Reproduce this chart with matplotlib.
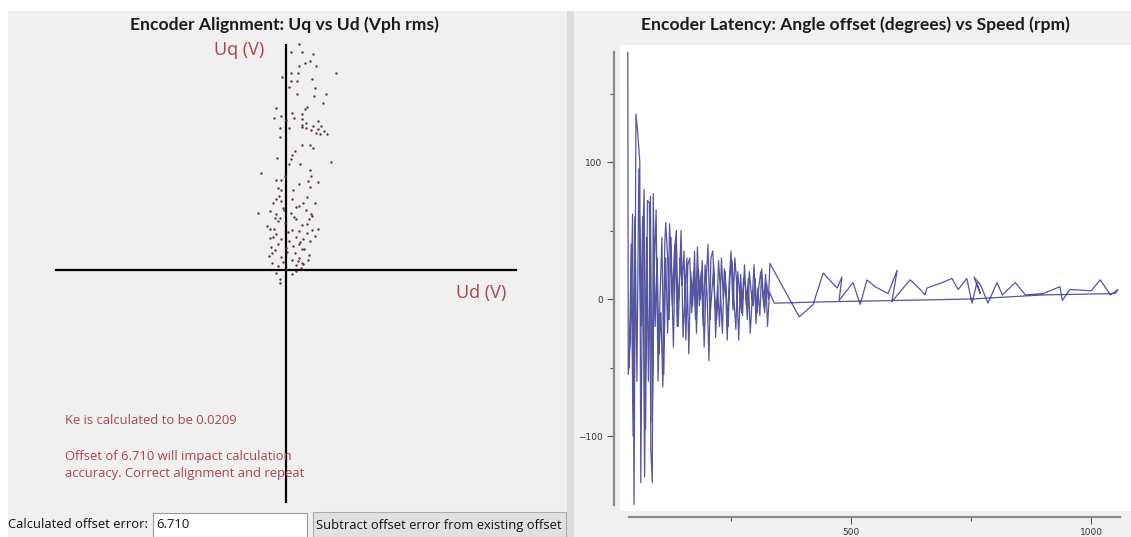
import matplotlib
matplotlib.use('agg')
import matplotlib.pyplot as plt
from matplotlib.patches import Rectangle
from matplotlib.ticker import FixedLocator

# --- left panel: Uq vs Ud scatter (V) ---
ud = [0.55, 0.22, 0.68, 1.19, 1.03, 0.81, 0.58, 1.31, 0.22, 0.52, -0.17, 2.17, 1.12, 0.21, 0.46,
      1.25, 0.11, 1.75, 0.46, 1.22, 1.60, -0.43, 0.93, 0.84, 0.24, 0.70, -0.21, -0.52, 0.36, 0.68,
      1.41, -0.02, -0.27, 0.11, 0.68, 0.87, 1.19, 1.38, 1.53, 1.66, 1.77, 1.47, -0.27, 0.68, 1.06,
      1.19, 0.40, 0.27, -0.41, 0.21, 1.94, 0.11, -1.09, 1.03, -0.05, 1.09, 0.96, 1.38, -0.43, -0.21,
      0.55, 1.03, -0.36, -0.21, 0.93, -0.43, 0.24, 0.74, -0.58, 1.25, 0.58, -0.11, -0.68, -1.22, -0.43,
      0.21, 0.87, 1.09, -0.24, 0.43, 1.00, -0.84, -0.36, -0.05, 0.68, 1.38, 1.15, -0.71, -0.52, 0.27,
      0.58, 0.90, 1.25, 0.43, -0.55, -0.21, 0.74, 1.06, -0.36, 0.58, -0.65, 0.02, 0.68, -0.49, 0.40,
      1.00, -0.74, -0.21, 0.55, 0.24, -0.62, 0.71, 0.43, -0.33, 0.02, 0.43, -0.43, 0.24, -0.27, -0.27,
      0.60, 0.80, 0.50, -0.10, 0.35, 0.90, -0.45, 0.15, -0.60, 0.95, 0.65, -0.15, 0.30, -0.30, 0.70,
      1.10, 1.30, 0.85, 0.10, -0.50, 0.45, 0.75, -0.20, 0.30, 1.15, -0.70, 0.05, 0.60]
uq = [9.84, 9.49, 9.49, 9.41, 9.09, 8.99, 8.87, 8.87, 8.58, 8.55, 8.41, 8.55, 8.29, 8.22, 8.22,
      7.93, 7.97, 7.65, 7.65, 7.57, 7.25, 7.06, 7.10, 6.99, 6.84, 6.77, 6.70, 6.62, 6.61, 6.55,
      6.48, 6.52, 6.19, 6.19, 6.23, 6.19, 6.26, 6.14, 6.26, 6.04, 5.90, 5.90, 5.80, 5.43, 5.43,
      5.32, 5.17, 5.01, 4.88, 4.84, 4.70, 4.59, 4.23, 4.35, 4.09, 4.09, 3.87, 3.84, 3.91, 3.91,
      3.72, 3.62, 3.55, 3.48, 3.19, 3.07, 3.07, 2.93, 2.93, 2.90, 2.78, 2.71, 2.57, 2.46, 2.42,
      2.49, 2.61, 2.42, 2.28, 2.20, 2.20, 1.91, 2.13, 2.03, 1.97, 1.80, 1.74, 1.77, 1.80, 1.74,
      1.70, 1.59, 1.48, 1.45, 1.45, 1.33, 1.33, 1.26, 1.12, 1.12, 1.01, 0.97, 0.93, 0.87, 0.72,
      0.64, 0.61, 0.58, 0.52, 0.43, 0.32, 0.32, 0.20, 0.17, 0.03, -0.04, -0.12, -0.19, -0.41, -0.58,
      1.20, 0.90, 0.40, 2.60, 2.30, 2.00, 1.55, 1.25, 0.75, 0.45, 0.10, 0.35, 3.50, 3.20, 6.30,
      6.10, 5.95, 6.40, 1.65, 2.25, 2.75, 0.25, 3.00, 1.05, 2.35, 1.40, 0.80, 4.60]

ke_text = 'Ke is calculated to be 0.0209'
offset_text = 'Offset of 6.710 will impact calculation\naccuracy. Correct alignment and repeat'
offset_value = '6.710'

# --- right panel: angle offset (deg) vs speed (rpm) ---
speed = [35, 36, 40, 45, 48, 52, 56, 60, 62, 66, 69, 72, 76, 80, 83, 86, 88, 92, 96, 100,
         104, 108, 112, 114, 118, 121, 125, 128, 132, 136, 140, 144, 148, 152, 156, 160, 164, 168,
         172, 176, 180, 184, 188, 192, 196, 200, 204, 208, 212, 216, 220, 224, 228, 232, 236, 240,
         244, 248, 252, 256, 260, 264, 268, 272, 276, 280, 284, 288, 292, 296, 300, 304, 308, 312,
         316, 320, 324, 328, 331, 392, 421, 442, 471, 481, 475, 504, 519, 533, 550, 577, 596, 585,
         606, 623, 644, 654, 658, 690, 710, 723, 741, 752, 762, 769, 756, 770, 785, 804, 815, 842,
         863, 900, 935, 940, 956, 1000, 1019, 1040, 1056, 1050, 900, 750, 600, 450, 340,
         330, 326, 322, 318, 314, 310, 306, 302, 298, 294, 290, 286, 282, 278, 274, 270, 266, 262,
         258, 254, 250, 246, 242, 238, 234, 230, 226, 222, 218, 214, 210, 206, 202, 198, 194, 190,
         186, 182, 178, 174, 170, 166, 162, 158, 154, 150, 146, 142, 138, 134, 130, 126, 122, 118,
         114, 110, 106, 102, 98, 94, 90, 86, 82, 78, 74, 70, 66, 62, 58, 54, 50, 46, 42, 38]
angle = [180, -55, -30, 62, -150, 135, 120, 100, -134, 40, 80, -95, 72, 70, -110, -134, 77, -20,
         30, -40, -10, -64, 40, 56, 30, -15, 45, -5, 35, 50, -20, 30, 10, 35, -30, 25, 30, -10, 20,
         -15, 38, -5, 20, -20, 25, 5, -45, 30, 35, 0, -15, 28, 5, -25, 22, 5, -20, 18, 28, 0, -22,
         20, 3, -10, 15, 10, -15, 20, 5, -5, 15, -10, 10, 20, 5, -10, 12, 0, 26, -13, -4, 19, 8, 16,
         -1, 12, -4, 14, 9, 4, 21, -2, 7, 14, 7, 3, 8, 12, 15, 7, 15, -3, 12, 4, 16, 10, -3, 12, 3,
         12, 3, 4, 9, -1, 7, 6, 14, 3, 7, 4, 3, 0, -1, -2, -3,
         5, -20, 18, -5, 22, -12, 8, -18, 25, 0, -25, 15, -5, 25, -12, 18, -30, 10,
         30, -8, 35, 12, -30, 20, 0, 30, -20, 10, -28, 25, 5, -15, 40, 10, -35, 28,
         0, 22, -25, 35, -5, 20, -40, 30, 5, -28, 50, 10, -20, 40, -35, 20, 55, -25,
         30, -55, 45, 0, -60, 65, 20, -90, 75, -60, 45, -130, 60, -20, 95, -60, 60, -100, 40, -50]

W, H = 1131, 537


def frac(l, t, r, b):
  return [l / W, 1 - b / H, (r - l) / W, (b - t) / H]


def fx(x):
  return x / W


def fy(y):
  return 1 - y / H


fig = plt.figure(figsize=(W / 100, H / 100), dpi=100)
fig.patch.set_facecolor('white')

# panel backgrounds
for l, t, r, b in [(8, 11, 567, 537), (574, 11, 1131, 537)]:
  fig.add_artist(Rectangle((fx(l), fy(b)), (r - l) / W, (b - t) / H, transform=fig.transFigure,
                           facecolor='#f0f0f0', edgecolor='none', zorder=0))
fig.add_artist(Rectangle((fx(567), fy(537)), 7 / W, 526 / H, transform=fig.transFigure,
                         facecolor='#dcdcdc', edgecolor='none', zorder=0))

title_font = dict(family='Lato', fontweight='bold', fontsize=12.6, color='#1a1a1a')
fig.text(fx(284), fy(25), 'Encoder Alignment: Uq vs Ud (Vph rms)', ha='center', va='center', **title_font)
fig.text(fx(855), fy(25), 'Encoder Latency: Angle offset (degrees) vs Speed (rpm)', ha='center', va='center', **title_font)

# ---- left chart ----
ax = fig.add_axes(frac(56, 40, 516, 500))
ax.set_xlim(-10, 10)
ax.set_ylim(-10, 10)
ax.axis('off')
ax.plot([-10, 10], [0, 0], color='black', lw=1.6, clip_on=False, zorder=3)
ax.plot([0, 0], [-10.1, 9.8], color='black', lw=1.6, clip_on=False, zorder=3)
ax.scatter(ud, uq, s=3, marker='o', color='#5a3838', linewidths=0, zorder=4)

red = '#a9444a'
gui = dict(family='Open Sans', fontsize=9.4)
fig.text(fx(239), fy(50), 'Uq (V)', ha='center', va='center', color=red, fontsize=13, family='Open Sans', zorder=1)
fig.text(fx(481), fy(293), 'Ud (V)', ha='center', va='center', color=red, fontsize=13, family='Open Sans', zorder=1)
fig.text(fx(65), fy(420), ke_text, ha='left', va='center', color=red, zorder=1, **gui)
fig.text(fx(65), fy(465), offset_text, ha='left', va='center', color=red, linespacing=1.35, zorder=1, **gui)

# bottom widgets
fig.text(fx(8), fy(525), 'Calculated offset error:', ha='left', va='center', color='#111111', **gui)
fig.add_artist(Rectangle((fx(153), fy(537)), 154 / W, 24 / H, transform=fig.transFigure,
                         facecolor='white', edgecolor='#9a9a9a', lw=0.8, zorder=2))
fig.text(fx(156), fy(525), offset_value, ha='left', va='center', color='#111111', zorder=3, **gui)
fig.add_artist(Rectangle((fx(313), fy(537)), 253 / W, 25 / H, transform=fig.transFigure,
                         facecolor='#e1e1e1', edgecolor='#adadad', lw=0.8, zorder=2))
fig.text(fx(439), fy(525), 'Subtract offset error from existing offset', ha='center', va='center',
         color='#111111', zorder=3, **gui)

# ---- right chart ----
ax2 = fig.add_axes(frac(620, 45, 1131, 511))
ax2.set_facecolor('white')
ax2.set_xlim(18.75, 1083)
ax2.set_ylim(-154.7, 185.4)
ax2.plot(speed, angle, color='#2a2a88', lw=0.9, alpha=0.8)

for side in ['top', 'right']:
  ax2.spines[side].set_visible(False)
ax2.spines['left'].set_position(('outward', 4))
ax2.spines['bottom'].set_position(('outward', 4))
ax2.spines['left'].set_bounds(-150, 180)
ax2.spines['bottom'].set_bounds(37, 1060)
for side in ['left', 'bottom']:
  ax2.spines[side].set_color('#8a8a8a')
  ax2.spines[side].set_linewidth(1.6)

ax2.set_xticks([500, 1000])
ax2.set_yticks([-100, 0, 100])
ax2.xaxis.set_minor_locator(FixedLocator([250, 750]))
ax2.yaxis.set_minor_locator(FixedLocator([-50, 50, 150]))
ax2.tick_params(which='both', direction='out', color='#555555', width=0.8, labelsize=6.5,
                labelcolor='#333333')
ax2.tick_params(which='major', length=5)
ax2.tick_params(which='minor', length=3)

fig.savefig('out.png', dpi=100)
